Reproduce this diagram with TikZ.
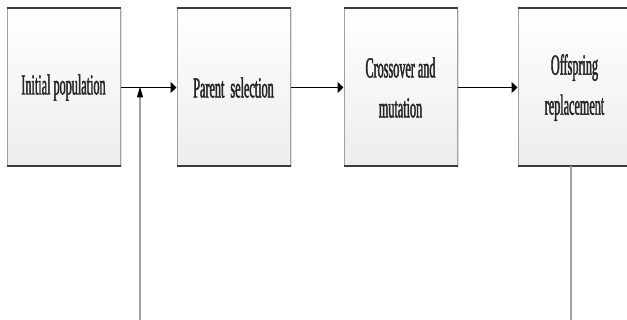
\documentclass[tikz,border=0pt]{standalone}
\usepackage{fontspec}
\setmainfont{Liberation Serif}[FakeStretch=0.42,FakeBold=1.5]
\usetikzlibrary{arrows.meta,shadows}
\definecolor{edgedark}{HTML}{3C3C3C}
\definecolor{edgegray}{HTML}{A0A0A0}
\definecolor{boxbot}{HTML}{EDEDED}
\definecolor{txt}{HTML}{262626}
\tikzset{
  stagebox/.style={minimum width=113pt, minimum height=157pt, inner sep=0pt,
    top color=white, bottom color=boxbot, draw=edgegray, line width=1pt,
    drop shadow={shadow xshift=1.5pt, shadow yshift=-1.5pt, opacity=0.25, fill=gray},
    align=center, text=txt, font=\fontsize{29}{40}\selectfont},
  boxedge/.style={draw=edgedark, line width=2pt},
  flow/.style={draw=black, line width=1.4pt, -{Triangle[length=6pt,width=11pt]}},
  plainline/.style={draw=black, line width=1.4pt},
  feedback/.style={draw=edgegray, line width=1.2pt},
  feedarrow/.style={draw=edgegray, line width=1.2pt, -{Triangle[length=11pt,width=6pt,color=black,fill=black]}}
}
\begin{document}
\begin{tikzpicture}[x=1pt,y=-1pt]
\useasboundingbox (0,0) rectangle (627,320);
\clip (0,0) rectangle (627,320);
\node[stagebox] (b1) at (63.5,87.5) {Initial population};
\node[stagebox] (b2) at (233.5,87.5) {Parent\ \ selection};
\node[stagebox] (b3) at (400.5,87.5) {Crossover and\\mutation};
\node[stagebox] (b4) at (574.5,87.5) {Offspring\\replacement};
\foreach \b in {b1,b2,b3,b4}{
  \draw[boxedge] (\b.north west) -- (\b.north east);
  \draw[boxedge] (\b.south west) -- (\b.south east);
}
\coordinate (j) at (140,87.5);
\coordinate (fbstart) at (140,320);
\coordinate (r1) at (571,166);
\coordinate (r2) at (571,320);
\draw[plainline] (b1.east) -- (j);
\draw[flow] (j) -- (b2.west);
\draw[flow] (b2.east) -- (b3.west);
\draw[flow] (b3.east) -- (b4.west);
\draw[feedarrow] (fbstart) -- ([yshift=1pt]j);
\draw[feedback] (r1) -- (r2);
\end{tikzpicture}
\end{document}
